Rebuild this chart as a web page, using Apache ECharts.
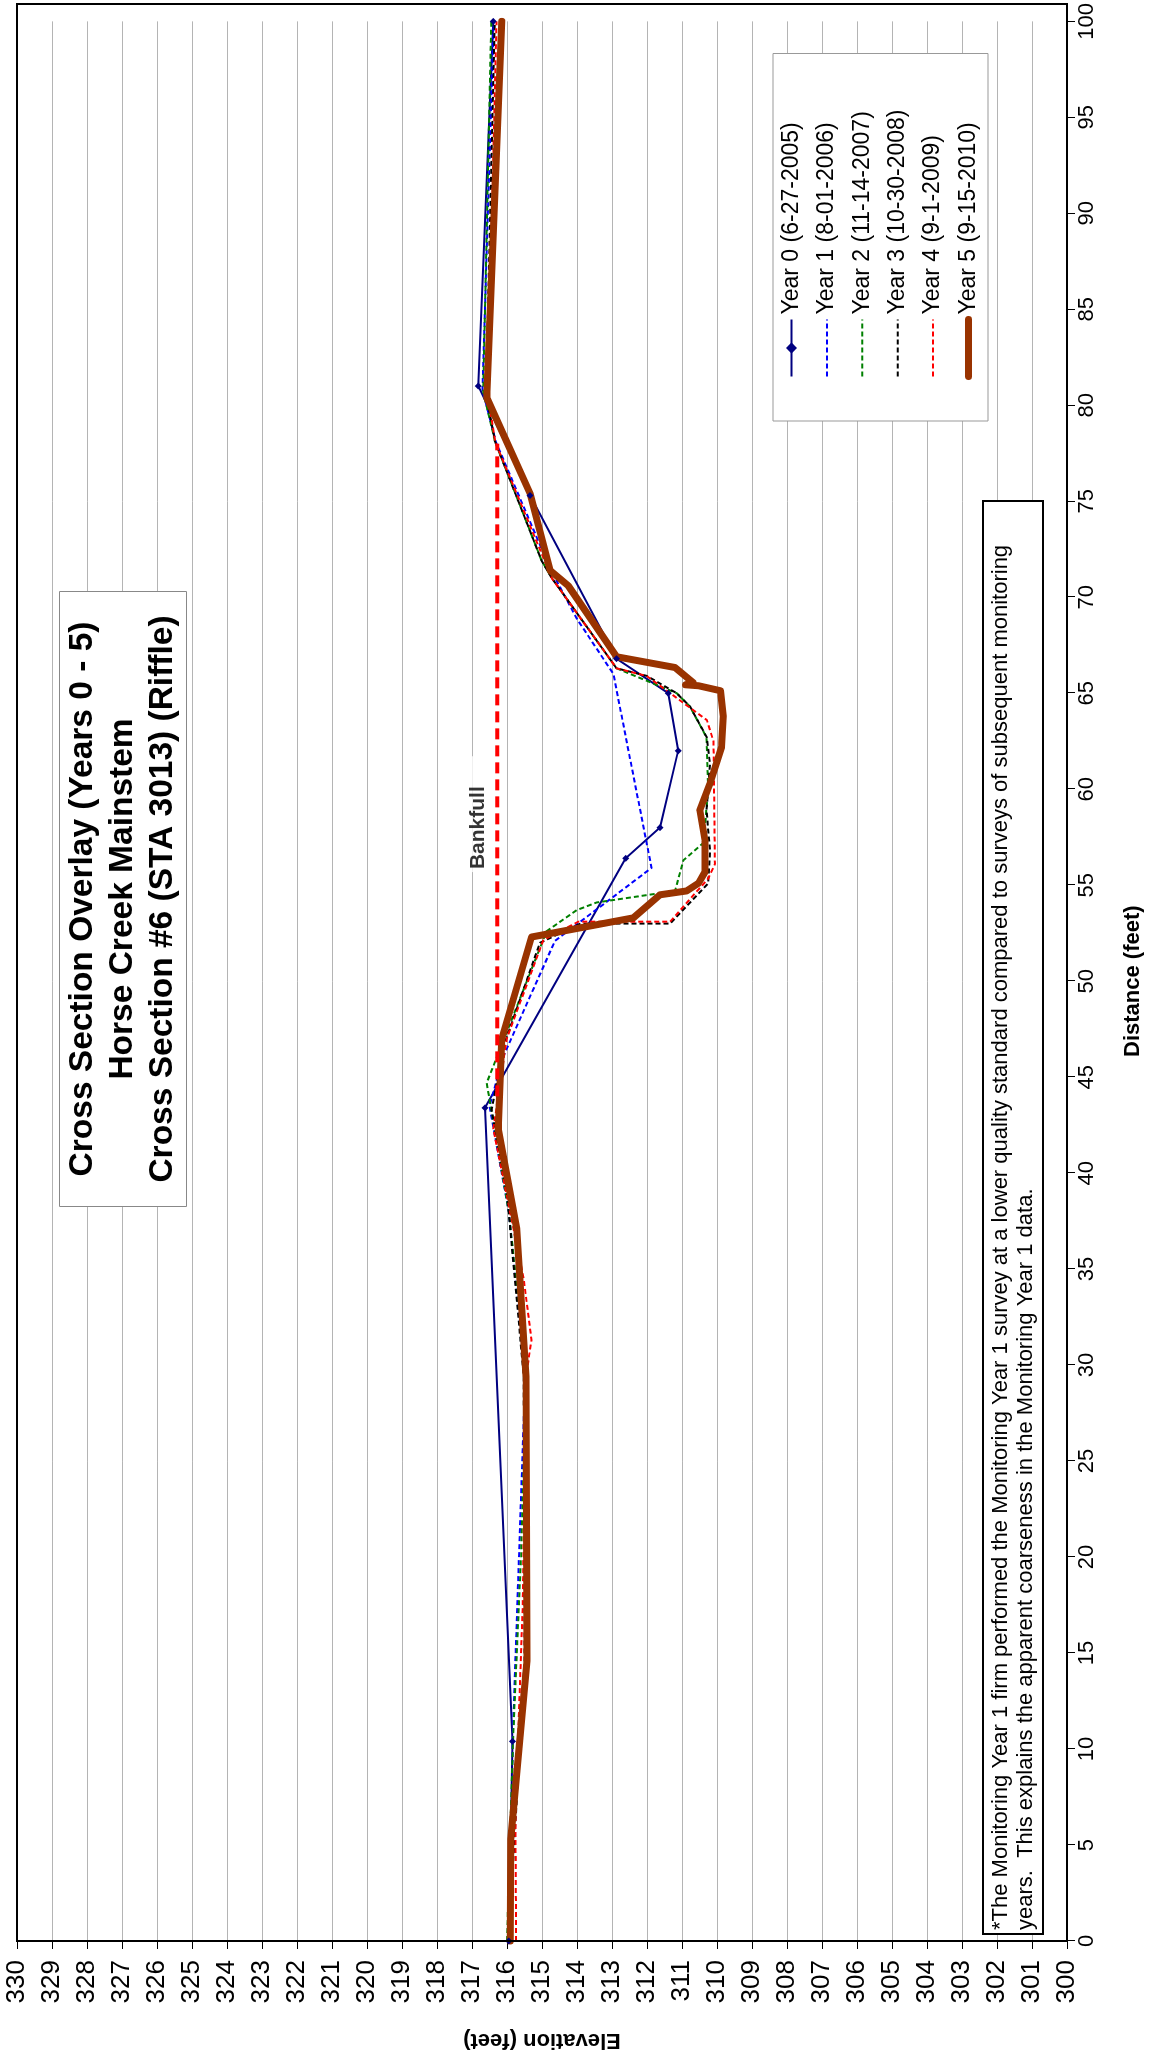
<!DOCTYPE html>
<html>
<head>
<meta charset="utf-8">
<script src="https://cdn.jsdelivr.net/npm/echarts@6/dist/echarts.min.js"></script>
<style>
html, body { margin: 0; padding: 0; background: #fff; overflow: hidden; width: 1159px; height: 2070px; }
/* chart is laid out landscape and turned a quarter turn, like the printed page */
#chart { position: absolute; left: 0; top: 0; width: 2070px; height: 1159px;
         transform-origin: 0 0; transform: translateY(2070px) rotate(-90deg); }
</style>
</head>
<body>
<div id="chart"></div>
<script>
// [distance (ft), elevation (ft)]
var year0 = [[0, 315.95], [10.4, 315.84], [43.4, 316.63], [56.4, 312.61], [58.0, 311.63], [62.0, 311.11],
    [65.0, 311.39], [66.8, 312.87], [75.3, 315.34], [81.0, 316.82], [100, 316.39]];
var year1 = [[0, 315.9], [10.4, 315.84], [29.4, 315.48], [38.0, 315.95], [43.5, 316.5], [46.1, 316.1],
    [52.1, 314.63], [55.9, 311.87], [66.0, 312.96], [68.9, 314.01], [71.5, 314.77], [78.1, 316.32],
    [80.8, 316.7], [100, 316.38]];
var year2 = [[0, 316.0], [10.4, 315.83], [20.0, 315.6], [29.4, 315.45], [38.0, 315.95], [44.7, 316.58],
    [52.6, 314.87], [53.7, 314.01], [54.1, 313.44], [54.7, 311.2], [56.3, 310.96], [57.2, 310.39],
    [60.0, 310.25], [62.7, 310.3], [64.3, 310.77], [65.0, 311.15], [66.3, 312.87], [71.0, 314.72],
    [71.9, 315.01], [78.1, 316.34], [80.7, 316.68], [100, 316.45]];
var year3 = [[0, 315.95], [14.6, 315.5], [29.4, 315.52], [38.95, 316.0], [43.3, 316.44], [46.6, 316.1],
    [52.0, 315.06], [53.0, 313.9], [53.0, 311.34], [55.1, 310.25], [56.8, 310.2], [58.9, 310.3],
    [61.3, 310.2], [62.7, 310.29], [64.3, 310.77], [65.0, 311.15], [65.9, 312.0], [66.3, 312.87],
    [71.0, 314.72], [71.9, 315.01], [78.1, 316.34], [80.6, 316.6], [100, 316.35]];
var year4 = [[0, 315.74], [6.7, 315.76], [17.5, 315.55], [29.4, 315.46], [31.3, 315.3], [34.45, 315.52],
    [42.3, 316.39], [47.0, 316.01], [52.15, 314.96], [53.1, 313.96], [53.1, 311.34], [55.35, 310.25],
    [56.1, 310.06], [62.5, 310.1], [63.6, 310.29], [65.9, 312.01], [66.3, 312.87], [71.0, 314.72],
    [78.1, 316.34], [80.6, 316.55], [100, 316.3]];
var year5 = [[0, 315.91], [5.3, 315.89], [14.6, 315.43], [29.4, 315.46], [37.1, 315.72], [42.3, 316.25],
    [47.0, 316.15], [52.3, 315.3], [53.3, 312.39], [54.5, 311.63], [54.7, 310.87], [55.1, 310.53],
    [55.7, 310.34], [57.3, 310.34], [58.9, 310.49], [60.3, 310.2], [62.2, 309.87], [63.8, 309.82],
    [65.13, 309.9], [65.39, 310.53], [65.44, 310.9], [65.55, 310.68], [66.34, 311.2], [66.9, 312.87],
    [70.6, 314.25], [71.4, 314.77], [75.4, 315.34], [80.4, 316.58], [100, 316.15]];
var bankfull = [[44.0, 316.28], [78.0, 316.28]];
var bankfullLabel = [[58.7, 316.83]];

var seriesNames = ['Year 0 (6-27-2005)', 'Year 1 (8-01-2006)', 'Year 2 (11-14-2007)',
    'Year 3 (10-30-2008)', 'Year 4 (9-1-2009)', 'Year 5 (9-15-2010)'];

var titleText = 'Cross Section Overlay (Years 0 - 5)\nHorse Creek Mainstem\nCross Section #6 (STA 3013) (Riffle)';
var noteText = '*The Monitoring Year 1 firm performed the Monitoring Year 1 survey at a lower quality standard compared to surveys of subsequent monitoring\n' +
    'years.  This explains the apparent coarseness in the Monitoring Year 1 data.';

var FONT = "'Liberation Sans', Arial, sans-serif";

function dashLine(name, data, color) {
    return {
        type: 'line', name: name, data: data, symbol: 'none', silent: true,
        lineStyle: { color: color, width: 2, type: [5, 3] },
        itemStyle: { color: color }
    };
}

// legend entries: only Year 0 keeps its marker, Year 5 keeps its thick line
var legendData = seriesNames.map(function (n, i) {
    if (i === 0) return { name: n };
    if (i === 5) return { name: n, itemStyle: { opacity: 0 }, lineStyle: { width: 7, cap: 'round' } };
    return { name: n, itemStyle: { opacity: 0 } };
});

var chart = echarts.init(document.getElementById('chart'), null, { width: 2070, height: 1159 });

var option = {
    animation: false,
    textStyle: { fontFamily: FONT },
    title: [{
        text: titleText,
        left: 1147, top: 59, textAlign: 'center',
        padding: [4, 24],
        backgroundColor: '#fff', borderColor: '#888', borderWidth: 1,
        textStyle: { fontFamily: FONT, fontSize: 33.5, fontWeight: 'bold', lineHeight: 40, color: '#000' }
    }, {
        text: noteText,
        left: 136, top: 983,
        padding: [5, 44, 5, 4],
        backgroundColor: '#fff', borderColor: '#000', borderWidth: 2,
        textStyle: { fontFamily: FONT, fontSize: 22, fontWeight: 'normal', lineHeight: 25, color: '#000' }
    }],
    legend: {
        data: legendData,
        orient: 'vertical',
        left: 1649, top: 773,
        itemWidth: 57, itemHeight: 14, itemGap: 12.4,
        padding: [7, 56, 8, 41],
        backgroundColor: '#fff', borderColor: '#999', borderWidth: 1, borderRadius: 0,
        textStyle: { fontFamily: FONT, fontSize: 23, color: '#000' }
    },
    grid: { left: 129, right: 13, top: 17, bottom: 92, containLabel: false },
    xAxis: {
        type: 'value', min: 0, max: 100, interval: 5,
        name: 'Distance (feet)', nameLocation: 'middle', nameGap: 55,
        nameTextStyle: { fontFamily: FONT, fontSize: 22, fontWeight: 'bold', color: '#000' },
        axisLine: { show: true, lineStyle: { color: '#000', width: 2 } },
        axisTick: { show: true, length: 8, lineStyle: { color: '#000', width: 1 } },
        axisLabel: { fontSize: 22, color: '#000', margin: 9 },
        splitLine: { show: false }
    },
    yAxis: {
        type: 'value', min: 300, max: 330, interval: 1,
        name: 'Elevation (feet)', nameLocation: 'middle', nameGap: 88, nameRotate: 90,
        nameTextStyle: { fontFamily: FONT, fontSize: 22, fontWeight: 'bold', color: '#000' },
        axisLine: { show: true, onZero: false, lineStyle: { color: '#000', width: 2 } },
        axisTick: { show: true, length: 8, lineStyle: { color: '#000', width: 1 } },
        axisLabel: { fontSize: 26, color: '#000', margin: 19 },
        splitLine: { show: true, lineStyle: { color: '#b4b4b4', width: 1 } }
    },
    graphic: [{
        type: 'rect', silent: true, z: 100,
        shape: { x: 129, y: 17, width: 1937, height: 1050 },
        style: { fill: 'none', stroke: '#000', lineWidth: 2 }
    }],
    series: [{
        type: 'line', name: seriesNames[0], data: year0, silent: true,
        symbol: 'diamond', symbolSize: 7, showSymbol: true,
        lineStyle: { color: '#000080', width: 2 },
        itemStyle: { color: '#000080' }
    },
        dashLine(seriesNames[1], year1, '#0000ff'),
        dashLine(seriesNames[2], year2, '#008000'),
        dashLine(seriesNames[3], year3, '#000000'),
        dashLine(seriesNames[4], year4, '#ff0000'),
    {
        type: 'line', name: seriesNames[5], data: year5, symbol: 'none', silent: true,
        lineStyle: { color: '#993300', width: 7, cap: 'round', join: 'round' },
        itemStyle: { color: '#993300' }
    }, {
        type: 'line', name: 'Bankfull', data: bankfull, symbol: 'none', silent: true,
        lineStyle: { color: '#ff0000', width: 4, type: [11, 6] }
    }, {
        type: 'scatter', name: 'Bankfull label', data: bankfullLabel, symbolSize: 0, silent: true,
        label: {
            show: true, position: 'inside', formatter: 'Bankfull',
            fontFamily: FONT, fontSize: 21, fontWeight: 'bold', color: '#000',
            backgroundColor: '#fff', padding: [1, 30, 1, 3]
        }
    }]
};

chart.setOption(option);
</script>
</body>
</html>
